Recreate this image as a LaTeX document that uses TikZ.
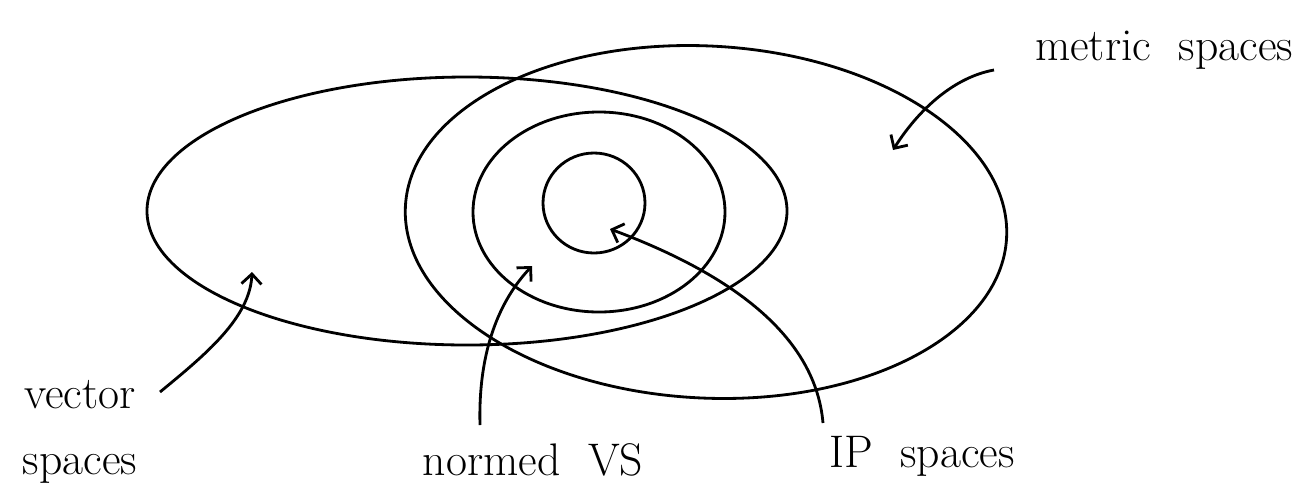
\documentclass[tikz,border=0pt]{standalone}
\usepackage{tikz}
\usetikzlibrary{arrows.meta,shapes.geometric}

\begin{document}
\begin{tikzpicture}[
    x=0.2mm, y=-0.2mm,
    set/.style={ellipse, draw=black, line width=1.6pt, inner sep=0pt},
    lbl/.style={align=center, inner sep=0pt, font=\fontsize{26}{38}\selectfont},
    a/.style={-{Straight Barb[length=2mm,width=4mm]}, line width=1.6pt}
]
    \useasboundingbox (0,0) rectangle (1309,498);
    % the four sets
    \node[set, minimum width=128mm, minimum height=53.6mm] (vs) at (467,211) {};
    \node[set, minimum width=120.4mm, minimum height=70.4mm, rotate=-3] (ms) at (706,222) {};
    \node[set, minimum width=50.4mm, minimum height=40mm] (nvs) at (599,212) {};
    \node[set, minimum width=20.4mm, minimum height=20mm] (ips) at (594,203) {};
    % labels
    \node[lbl, anchor=base] (mslabel) at (1164,60) {metric\ \ spaces};
    \node[lbl] (vslabel) at (80,432) {vector\\spaces};
    \node[lbl, anchor=base] (nvslabel) at (533,475) {normed\ \ VS};
    \node[lbl, anchor=base] (ipslabel) at (922,467) {IP\ \ spaces};
    % arrow ends
    \coordinate (mstail) at (994,70);
    \coordinate (msin) at (893,150);
    \coordinate (vstail) at (160,392);
    \coordinate (vsin) at (252,272);
    \coordinate (nvstail) at (480,425);
    \coordinate (nvsin) at (532,266);
    \coordinate (ipstail) at (823,423);
    \coordinate (ipsin) at (610,229);
    \draw[a] (mstail) .. controls (950,78) and (915,115) .. (msin);
    \draw[a] (vstail) .. controls (205,355) and (250,318) .. (vsin);
    \draw[a] (nvstail) .. controls (478,350) and (500,300) .. (nvsin);
    \draw[a] (ipstail) .. controls (815,330) and (720,270) .. (ipsin);
\end{tikzpicture}
\end{document}
